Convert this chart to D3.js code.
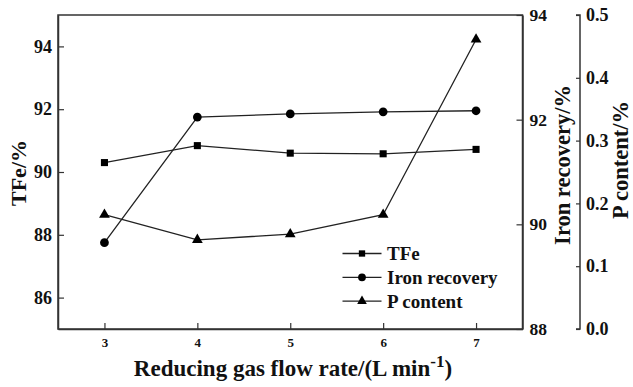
<!DOCTYPE html>
<html><head><meta charset="utf-8">
<script src="https://cdn.jsdelivr.net/npm/d3@7"></script>
<style>body{margin:0;background:#fff}svg{display:block}</style>
</head><body><svg id="c" width="633" height="387"></svg>
<script>
const flowRates = [3, 4, 5, 6, 7];
const tfe = [90.30, 90.84, 90.60, 90.58, 90.72];
const ironRecovery = [89.65, 92.05, 92.11, 92.15, 92.17];
const pContent = [0.182, 0.142, 0.151, 0.182, 0.461];
const xTicks = [3, 4, 5, 6, 7];
const leftTicks = [86, 88, 90, 92, 94];
const recTicks = [88, 90, 92, 94];
const pTicks = [0.0, 0.1, 0.2, 0.3, 0.4, 0.5];
const legendLabels = ["TFe", "Iron recovery", "P content"];

const FONT = "'Liberation Serif', 'Times New Roman', Times, serif";
const svg = d3.select("#c").style("font-family", FONT).style("font-weight", "bold");
const L = 58, R = 522.5, T = 15, B = 329, PX = 580;
const x = d3.scaleLinear().domain([2.5, 7.5]).range([L, R]);
const yL = d3.scaleLinear().domain([85, 95]).range([B, T]);
const yR = d3.scaleLinear().domain([88, 94]).range([B, T]);
const yP = d3.scaleLinear().domain([0, 0.5]).range([B, T]);
const col = "#222";

svg.append("rect").attr("x", L).attr("y", T).attr("width", R - L).attr("height", B - T)
  .attr("fill", "none").attr("stroke", "#333").attr("stroke-width", 1.5);

function styleAxis(g, size) {
  g.attr("font-family", FONT).attr("font-weight", "bold");
  g.select(".domain").attr("stroke", "#333").attr("stroke-width", 1.5);
  g.selectAll(".tick line").attr("stroke", "#333").attr("stroke-width", 1.2);
  g.selectAll(".tick text").style("font-family", FONT).style("font-weight", "bold").style("font-size", size + "px").attr("fill", "#111");
}
const gx = svg.append("g").attr("transform", `translate(0,${B})`)
  .call(d3.axisBottom(x).tickValues(xTicks).tickFormat(d3.format("d")).tickSizeInner(-6).tickSizeOuter(0).tickPadding(9));
styleAxis(gx, 13);
const gl = svg.append("g").attr("transform", `translate(${L},0)`)
  .call(d3.axisLeft(yL).tickValues(leftTicks).tickFormat(d3.format("d")).tickSizeInner(-6).tickSizeOuter(0).tickPadding(6));
styleAxis(gl, 18);
const gr = svg.append("g").attr("transform", `translate(${R},0)`)
  .call(d3.axisRight(yR).tickValues(recTicks).tickFormat(d3.format("d")).tickSizeInner(-6).tickSizeOuter(0).tickPadding(7));
styleAxis(gr, 17.5);
const gp = svg.append("g").attr("transform", `translate(${PX},0)`)
  .call(d3.axisRight(yP).tickValues(pTicks).tickFormat(d3.format(".1f")).tickSizeInner(-4).tickSizeOuter(-4).tickPadding(6));
styleAxis(gp, 18);
gp.select(".domain").attr("d", `M-4,${T}H0V${B}H-4`);

function title(t, tx, ty, rot, size) {
  return svg.append("text").attr("transform", `translate(${tx},${ty}) rotate(${rot})`)
    .attr("text-anchor", "middle").style("font-size", size + "px").attr("fill", "#111").text(t);
}
title("TFe/%", 26, 173, -90, 22);
title("Iron recovery/%", 570, 165, -90, 22.5);
title("P content/%", 627.5, 160, -90, 22.5);
const xt = svg.append("text").attr("x", 293).attr("y", 376).attr("text-anchor", "middle").style("font-size", "23px").attr("fill", "#111");
xt.append("tspan").text("Reducing gas flow rate/(L min");
xt.append("tspan").attr("dy", -9).style("font-size", "17px").text("-1");
xt.append("tspan").attr("dy", 9).text(")");

const series = [
  {vals: tfe, y: yL, sym: d3.symbolSquare, size: 50},
  {vals: ironRecovery, y: yR, sym: d3.symbolCircle, size: 60},
  {vals: pContent, y: yP, sym: d3.symbolTriangle, size: 50}
];
series.forEach(s => {
  const line = d3.line().x((d, i) => x(flowRates[i])).y(d => s.y(d));
  svg.append("path").datum(s.vals).attr("d", line).attr("fill", "none").attr("stroke", col).attr("stroke-width", 1.3);
  svg.selectAll(null).data(s.vals).enter().append("path")
    .attr("d", d3.symbol().type(s.sym).size(s.size))
    .attr("transform", (d, i) => `translate(${x(flowRates[i])},${s.y(d)})`)
    .attr("fill", "#000");
});

legendLabels.forEach((lab, i) => {
  const yy = 253.5 + i * 23.8;
  svg.append("line").attr("x1", 342.5).attr("x2", 381.5).attr("y1", yy).attr("y2", yy).attr("stroke", col).attr("stroke-width", 1.3);
  svg.append("path").attr("d", d3.symbol().type(series[i].sym).size(series[i].size * 0.8))
    .attr("transform", `translate(362,${yy})`).attr("fill", "#000");
  svg.append("text").attr("x", 387).attr("y", yy + 6.5).style("font-size", "19px").attr("fill", "#111").text(lab);
});
</script></body></html>
